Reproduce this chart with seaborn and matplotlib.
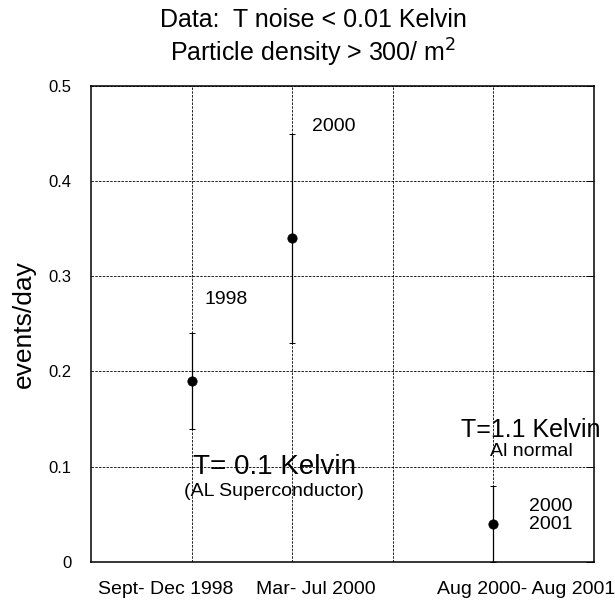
import numpy as np
import pandas as pd
import matplotlib
matplotlib.use("Agg")
import matplotlib.pyplot as plt
import seaborn as sns

# data
periods = ["Sept- Dec 1998", "Mar- Jul 2000", "Aug 2000- Aug 2001"]
x_pos = [1, 2, 4]
rate = [0.19, 0.34, 0.04]
err_low = [0.14, 0.23, 0.0]
err_high = [0.24, 0.45, 0.08]

sns.set_style("white", {"text.color": "black", "axes.labelcolor": "black",
                        "xtick.color": "black", "ytick.color": "black",
                        "axes.edgecolor": "black"})
plt.rcParams['font.family'] = ['Liberation Sans', 'DejaVu Sans']

df = pd.DataFrame({"x": x_pos, "rate": rate})

fig = plt.figure(figsize=(6.15, 6.10), dpi=100)
ax = fig.add_axes([0.148, 0.079, 0.818, 0.780])

# error bars
yerr = [np.array(rate) - np.array(err_low), np.array(err_high) - np.array(rate)]
ax.errorbar(x_pos, rate, yerr=yerr, fmt="none", ecolor="black", elinewidth=0.9,
            capsize=2.2, capthick=0.7)
sns.scatterplot(data=df, x="x", y="rate", ax=ax, color="black", s=45,
                edgecolor="black", zorder=3)

ax.set_xlim(0, 5)
ax.set_ylim(0, 0.5)
ax.set_xticks([1, 2, 3, 4])
ax.set_xticklabels([])
ax.set_yticks([0, 0.1, 0.2, 0.3, 0.4, 0.5])
ax.set_yticklabels(["0", "0.1", "0.2", "0.3", "0.4", "0.5"], fontsize=12)
ax.tick_params(axis="x", length=0)
ax.tick_params(axis="y", direction="in", length=6, width=0.7, right=True, pad=14,
               labelcolor="black")
ax.grid(True, linestyle=(0, (3, 1.5)), color="black", linewidth=0.6)
for s in ax.spines.values():
    s.set_linewidth(1.1)
    s.set_color("black")
ax.set_xlabel("")
ax.set_ylabel("events/day", fontsize=19, color="black")
ax.yaxis.set_label_coords(-0.109, 0.5)

# period labels below the axis
for xp, lab in zip([0.74, 2.23, 4.32], periods):
    ax.text(xp, -0.029, lab, ha="center", va="center", fontsize=14, color="black")

# annotations
notes = [
    (2.20, 0.457, "2000", "left", 14),
    (1.13, 0.276, "1998", "left", 14),
    (1.82, 0.100, "T= 0.1 Kelvin", "center", 20),
    (1.82, 0.0735, "(AL Superconductor)", "center", 14),
    (4.37, 0.139, "T=1.1 Kelvin", "center", 18),
    (4.38, 0.1155, "Al normal", "center", 14),
    (4.35, 0.058, "2000", "left", 14),
    (4.35, 0.039, "2001", "left", 14),
]
for xn, yn, txt, ha, fs in notes:
    ax.text(xn, yn, txt, ha=ha, va="center", fontsize=fs, color="black")

fig.text(0.509, 0.956, "Data:  T noise < 0.01 Kelvin", ha="center", va="baseline",
         fontsize=18, color="black")
fig.text(0.509, 0.899, "Particle density > 300/ m$^2$", ha="center", va="baseline",
         fontsize=18, color="black")

fig.savefig("out.png", dpi=100)
